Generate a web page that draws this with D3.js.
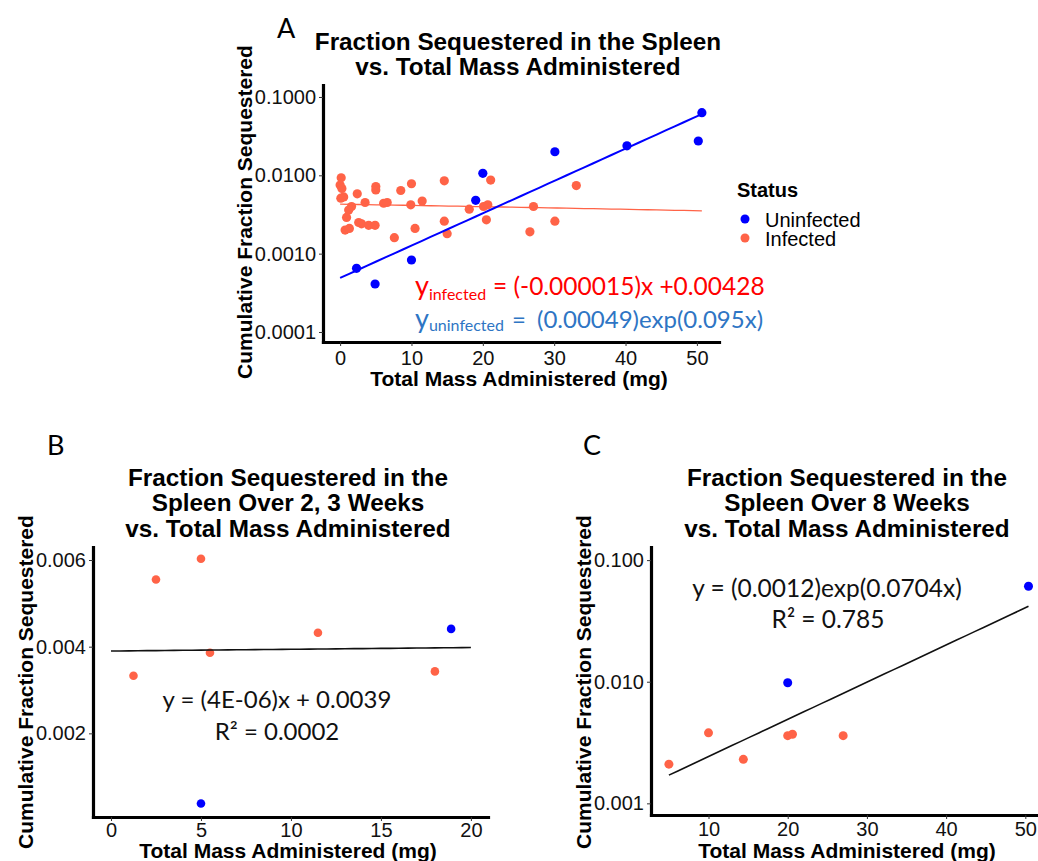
<!DOCTYPE html>
<html>
<head>
<meta charset="utf-8">
<script src="https://cdn.jsdelivr.net/npm/d3@7"></script>
<style>
  body { margin: 0; background: #fff; }
  svg { display: block; }
</style>
</head>
<body>
<script>
// Panel A - all animals, log scale
var aInfectedMass = [0.15, 0.0, 0.25, 0.5, 0.1, 2.4, 5.0, 5.0, 8.5, 10.0, 3.5, 6.1, 6.6, 9.9, 11.5,
  1.6, 1.2, 0.9, 2.6, 3.0, 4.0, 4.9, 0.7, 1.3, 10.5, 7.6, 14.6, 14.6, 15.0, 21.1,
  18.1, 20.1, 20.7, 20.5, 27.1, 26.6, 30.1, 33.1];
var aInfectedFrac = [0.0093, 0.0075, 0.0068, 0.0053, 0.0051, 0.0058, 0.0072, 0.0065, 0.0064, 0.0078, 0.0045, 0.0044, 0.0045, 0.0042, 0.0047,
  0.0040, 0.0036, 0.0029, 0.0025, 0.0024, 0.0023, 0.0023, 0.0020, 0.0021, 0.0021, 0.0016, 0.0085, 0.0026, 0.0018, 0.0087,
  0.0037, 0.0040, 0.0042, 0.0027, 0.0040, 0.0019, 0.0026, 0.0074];
var aUninfectedMass = [2.3, 4.9, 10.0, 19.0, 20.0, 30.1, 40.2, 50.2, 50.7];
var aUninfectedFrac = [0.00065, 0.00041, 0.00083, 0.0048, 0.0106, 0.020, 0.0238, 0.0274, 0.063];

// Panel B - 2, 3 weeks
var bInfectedMass = [1.25, 2.5, 5.0, 5.5, 11.5, 18.0];
var bInfectedFrac = [0.00333, 0.00555, 0.00603, 0.00386, 0.00432, 0.00343];
var bUninfectedMass = [5.0, 18.9];
var bUninfectedFrac = [0.00038, 0.00441];

// Panel C - 8 weeks
var cInfectedMass = [5.0, 10.0, 14.4, 20.0, 20.6, 27.0];
var cInfectedFrac = [0.0021, 0.0038, 0.0023, 0.0036, 0.0037, 0.0036];
var cUninfectedMass = [20.0, 50.4];
var cUninfectedFrac = [0.0098, 0.061];

// fitted curves (coefficients from the printed equations)
var fitAInfected = { slope: -0.000015, intercept: 0.00428, from: 0, to: 50.7 };
var fitAUninfected = { a: 0.00049, k: 0.095, from: 0, to: 50.7 };
var fitB = { slope: 0.000004, intercept: 0.0039, from: 0, to: 20 };
var fitC = { a: 0.0012, k: 0.0704, from: 5, to: 50.4 };

// tick labels
var aXTicks = [0, 10, 20, 30, 40, 50];
var aYTicks = [0.0001, 0.001, 0.01, 0.1];
var bXTicks = [0, 5, 10, 15, 20];
var bYTicks = [0.002, 0.004, 0.006];
var cXTicks = [10, 20, 30, 40, 50];
var cYTicks = [0.001, 0.01, 0.1];

var statusLabels = ["Uninfected", "Infected"];

var INFECTED = "#ff6347";
var UNINFECTED = "#0000ff";
var sans = "'Liberation Sans', Arial, sans-serif";
var calib = "Lato, 'Open Sans', sans-serif";

var svg = d3.select("body").append("svg")
  .attr("width", 1038)
  .attr("height", 861);

svg.append("rect").attr("width", 1038).attr("height", 861).attr("fill", "#fff");

//Draws the two axes of a panel in the ggplot classic look
function drawAxes(x, y, xTicks, yTicks, yFormat, xPad) {
  var gx = svg.append("g")
    .attr("transform", "translate(0," + y.range()[0] + ")")
    .call(d3.axisBottom(x).tickValues(xTicks).tickFormat(d3.format("d"))
      .tickSize(4).tickSizeOuter(0).tickPadding(xPad));
  var gy = svg.append("g")
    .attr("transform", "translate(" + x.range()[0] + ",0)")
    .call(d3.axisLeft(y).tickValues(yTicks).tickFormat(d3.format(yFormat))
      .tickSize(4).tickSizeOuter(0).tickPadding(3));
  [gx, gy].forEach(function(g) {
    g.select(".domain").attr("stroke", "#000").attr("stroke-width", 3.2)
      .attr("stroke-linecap", "square");
    g.selectAll(".tick line").attr("stroke", "#333").attr("stroke-width", 1);
    g.selectAll(".tick text").attr("fill", "#111")
      .style("font-family", sans).style("font-size", "20px");
  });
}

function drawTitle(lines, cx, baselines) {
  lines.forEach(function(t, i) {
    svg.append("text")
      .attr("x", cx).attr("y", baselines[i])
      .attr("text-anchor", "middle")
      .style("font-family", sans).style("font-weight", "bold").style("font-size", "24.3px")
      .text(t);
  });
}

function drawAxisTitles(cx, xBase, yx, yCenter) {
  svg.append("text")
    .attr("x", cx).attr("y", xBase)
    .attr("text-anchor", "middle")
    .style("font-family", sans).style("font-weight", "bold").style("font-size", "21px")
    .text("Total Mass Administered (mg)");
  svg.append("text")
    .attr("transform", "translate(" + yx + "," + yCenter + ") rotate(-90)")
    .attr("text-anchor", "middle")
    .style("font-family", sans).style("font-weight", "bold").style("font-size", "21px")
    .text("Cumulative Fraction Sequestered");
}

function drawPoints(x, y, mass, frac, colour, r) {
  svg.append("g").selectAll("circle")
    .data(mass)
    .enter().append("circle")
    .attr("cx", function(d) { return x(d); })
    .attr("cy", function(d, i) { return y(frac[i]); })
    .attr("r", r)
    .attr("fill", colour);
}

function drawFit(x, y, fit, f, colour, width) {
  var xs = d3.range(fit.from, fit.to, (fit.to - fit.from) / 40).concat([fit.to]);
  var line = d3.line()
    .x(function(d) { return x(d); })
    .y(function(d) { return y(f(d)); });
  svg.append("path")
    .attr("d", line(xs))
    .attr("fill", "none")
    .attr("stroke", colour)
    .attr("stroke-width", width);
}

function panelLetter(t, px, py) {
  svg.append("text").attr("x", px).attr("y", py)
    .style("font-family", calib).style("font-size", "27px")
    .text(t);
}

// ---------- Panel A ----------
var xA = d3.scaleLinear().domain([-2.4, 53.1]).range([323, 719]);
var yA = d3.scaleLog().domain([0.0000745, 0.1422]).range([342, 85]);

panelLetter("A", 277, 38);
drawTitle(["Fraction Sequestered in the Spleen", "vs. Total Mass Administered"], 518, [50, 75]);
drawAxes(xA, yA, aXTicks, aYTicks, ".4f", 5);
drawAxisTitles(519, 386, 252, 212);

drawPoints(xA, yA, aInfectedMass, aInfectedFrac, INFECTED, 4.6);
drawPoints(xA, yA, aUninfectedMass, aUninfectedFrac, UNINFECTED, 4.6);
drawFit(xA, yA, fitAInfected, function(m) { return fitAInfected.intercept + fitAInfected.slope * m; }, INFECTED, 1.3);
drawFit(xA, yA, fitAUninfected, function(m) { return fitAUninfected.a * Math.exp(fitAUninfected.k * m); }, UNINFECTED, 2);

// legend
svg.append("text").attr("x", 737).attr("y", 197)
  .style("font-family", sans).style("font-weight", "bold").style("font-size", "20px")
  .text("Status");
var legend = svg.append("g").selectAll("g")
  .data(statusLabels)
  .enter().append("g")
  .attr("transform", function(d, i) { return "translate(745," + (219 + i * 19) + ")"; });
legend.append("circle").attr("r", 4.5)
  .attr("fill", function(d) { return d === "Infected" ? INFECTED : UNINFECTED; });
legend.append("text").attr("x", 20).attr("y", 7.5)
  .style("font-family", sans).style("font-size", "20px")
  .text(function(d) { return d; });

// equations
var eqInf = svg.append("text").attr("y", 295).attr("fill", "#ff0000").style("font-family", calib);
eqInf.append("tspan").attr("x", 415).style("font-size", "27px").text("y");
eqInf.append("tspan").attr("dy", 5).style("font-size", "16px").text("infected");
eqInf.append("tspan").attr("x", 493).attr("dy", -5).style("font-size", "24.5px").text("= (-0.000015)x +0.00428");

var eqUninf = svg.append("text").attr("y", 328).attr("fill", "#2e75c4").style("font-family", calib);
eqUninf.append("tspan").attr("x", 415).style("font-size", "27px").text("y");
eqUninf.append("tspan").attr("dy", 3).style("font-size", "16px").text("uninfected");
eqUninf.append("tspan").attr("x", 512).attr("dy", -3).style("font-size", "24px").text("=");
eqUninf.append("tspan").attr("x", 537).style("font-size", "24px").text("(0.00049)exp(0.095x)");

// ---------- Panel B ----------
var xB = d3.scaleLinear().domain([-1.0, 20.95]).range([93, 488]);
var yB = d3.scaleLinear().domain([0.00007, 0.0063]).range([817, 547]);

panelLetter("B", 47, 455);
drawTitle(["Fraction Sequestered in the", "Spleen Over 2, 3 Weeks", "vs. Total Mass Administered"], 288, [486, 511, 537]);
drawAxes(xB, yB, bXTicks, bYTicks, ".3f", 2);
drawAxisTitles(288, 858, 33, 682);

drawPoints(xB, yB, bInfectedMass, bInfectedFrac, INFECTED, 4.3);
drawPoints(xB, yB, bUninfectedMass, bUninfectedFrac, UNINFECTED, 4.3);
drawFit(xB, yB, fitB, function(m) { return fitB.intercept + fitB.slope * m; }, "#111", 1.6);

svg.append("text").attr("x", 277).attr("y", 708).attr("text-anchor", "middle")
  .style("font-family", calib).style("font-size", "24px").attr("fill", "#111")
  .text("y = (4E-06)x + 0.0039");
svg.append("text").attr("x", 277).attr("y", 740).attr("text-anchor", "middle")
  .style("font-family", calib).style("font-size", "24px").attr("fill", "#111")
  .text("R² = 0.0002");

// ---------- Panel C ----------
var xC = d3.scaleLinear().domain([2.74, 51.6]).range([651, 1038]);
var yC = d3.scaleLog().domain([0.000802, 0.1282]).range([815, 547]);

panelLetter("C", 583, 455);
drawTitle(["Fraction Sequestered in the", "Spleen Over 8 Weeks", "vs. Total Mass Administered"], 847, [486, 511, 537]);
drawAxes(xC, yC, cXTicks, cYTicks, ".3f", 3);
drawAxisTitles(847, 858, 591, 682);

drawPoints(xC, yC, cInfectedMass, cInfectedFrac, INFECTED, 4.5);
drawPoints(xC, yC, cUninfectedMass, cUninfectedFrac, UNINFECTED, 4.5);
drawFit(xC, yC, fitC, function(m) { return fitC.a * Math.exp(fitC.k * m); }, "#111", 1.6);

svg.append("text").attr("x", 827).attr("y", 597).attr("text-anchor", "middle")
  .style("font-family", calib).style("font-size", "24.5px").attr("fill", "#111")
  .text("y = (0.0012)exp(0.0704x)");
svg.append("text").attr("x", 828).attr("y", 628).attr("text-anchor", "middle")
  .style("font-family", calib).style("font-size", "24.5px").attr("fill", "#111")
  .text("R² = 0.785");
</script>
</body>
</html>
